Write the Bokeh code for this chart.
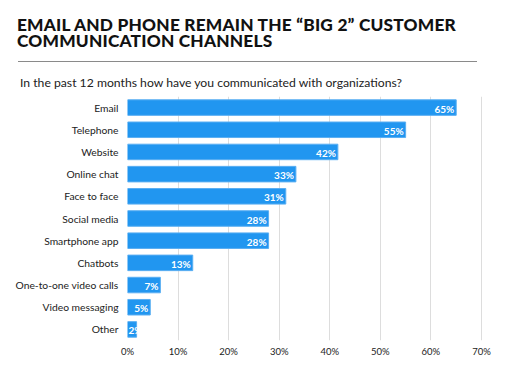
from bokeh.plotting import figure
from bokeh.models import FactorRange, Range1d, FixedTicker, CustomJSTickFormatter, Div
from bokeh.layouts import column
from bokeh.core.properties import value
from bokeh.embed import file_html
from bokeh.resources import INLINE

title_lines = ["EMAIL AND PHONE REMAIN THE \u201cBIG 2\u201d CUSTOMER", "COMMUNICATION CHANNELS"]
subtitle = "In the past 12 months how have you communicated with organizations?"
categories = ["Email", "Telephone", "Website", "Online chat", "Face to face", "Social media",
              "Smartphone app", "Chatbots", "One-to-one video calls", "Video messaging", "Other"]
values = [65, 55, 41.6, 33.3, 31.3, 27.9, 27.9, 12.9, 6.5, 4.5, 1.8]
value_labels = ["65%", "55%", "42%", "33%", "31%", "28%", "28%", "13%", "7%", "5%", "2%"]
x_ticks = [0, 10, 20, 30, 40, 50, 60, 70]

W = 496
title_style = ('position:absolute;left:17px;font-family:Lato;font-weight:900;font-size:17.3px;'
               'line-height:16px;height:16px;color:#111;letter-spacing:0.2px;white-space:nowrap;')
header_html = (
    '<div style="position:relative;width:496px;height:96px;">'
    '<div style="' + title_style + 'top:16.5px;">' + title_lines[0] + '</div>'
    '<div style="' + title_style + 'top:32.5px;">' + title_lines[1] + '</div>'
    '<div style="position:absolute;left:18px;top:61px;width:459px;height:0;'
    'border-top:1.5px solid #8a8a8a;"></div>'
    '<div style="position:absolute;left:20px;top:74px;font-family:Lato;font-size:12.2px;'
    'color:#222;white-space:nowrap;">' + subtitle + '</div>'
    '</div>'
)
header = Div(text=header_html, width=W, height=96, margin=(0, 0, 0, 0))

p = figure(frame_width=355, frame_height=244, output_backend="svg", toolbar_location=None,
           y_range=FactorRange(factors=list(reversed(categories)), range_padding=0),
           x_range=Range1d(0, 70.2), margin=(0, 0, 0, 0),
           min_border_left=127, min_border_right=10, min_border_top=0, min_border_bottom=0)
p.outline_line_color = None

p.hbar(y=categories, right=values, left=0, height=0.7, fill_color="#2196f0", line_color="#5aaef2", line_width=1)

big = [(c, v, t) for c, v, t in zip(categories, values, value_labels) if v >= 3]
small = [(c, v, t) for c, v, t in zip(categories, values, value_labels) if v < 3]
p.text(x=[b[1] for b in big], y=[b[0] for b in big], text=[b[2] for b in big],
       text_align="right", text_baseline="middle", x_offset=-2, y_offset=1,
       text_color="white", text_font_style="bold", text_font_size="10px", text_font=value("Lato"))
p.text(x=[0 for b in small], y=[b[0] for b in small], text=[b[2] for b in small],
       text_align="left", text_baseline="middle", x_offset=1, y_offset=1,
       text_color="white", text_font_style="bold", text_font_size="10px", text_font=value("Lato"))

p.xaxis.ticker = FixedTicker(ticks=x_ticks)
p.xaxis.formatter = CustomJSTickFormatter(code="return tick + '%';")
p.xaxis.axis_line_color = None
p.xaxis.major_tick_line_color = None
p.xaxis.minor_tick_line_color = None
p.xaxis.major_tick_out = 0
p.xaxis.major_tick_in = 0
p.xaxis.minor_tick_out = 0
p.xaxis.major_label_standoff = 5
p.xaxis.major_label_text_font = "Lato"
p.xaxis.major_label_text_font_size = "9.5px"
p.xaxis.major_label_text_color = "#222222"

p.yaxis.axis_line_color = None
p.yaxis.major_tick_line_color = None
p.yaxis.major_tick_out = 0
p.yaxis.major_tick_in = 0
p.yaxis.major_label_standoff = 9
p.yaxis.major_label_text_font = "Lato"
p.yaxis.major_label_text_font_size = "10.3px"
p.yaxis.major_label_text_color = "#222222"

p.xgrid.grid_line_color = "#dddddd"
p.ygrid.grid_line_color = None

layout = column(header, p, spacing=0, margin=(0, 0, 0, 0))
open("out.html", "w").write(file_html(layout, INLINE))
